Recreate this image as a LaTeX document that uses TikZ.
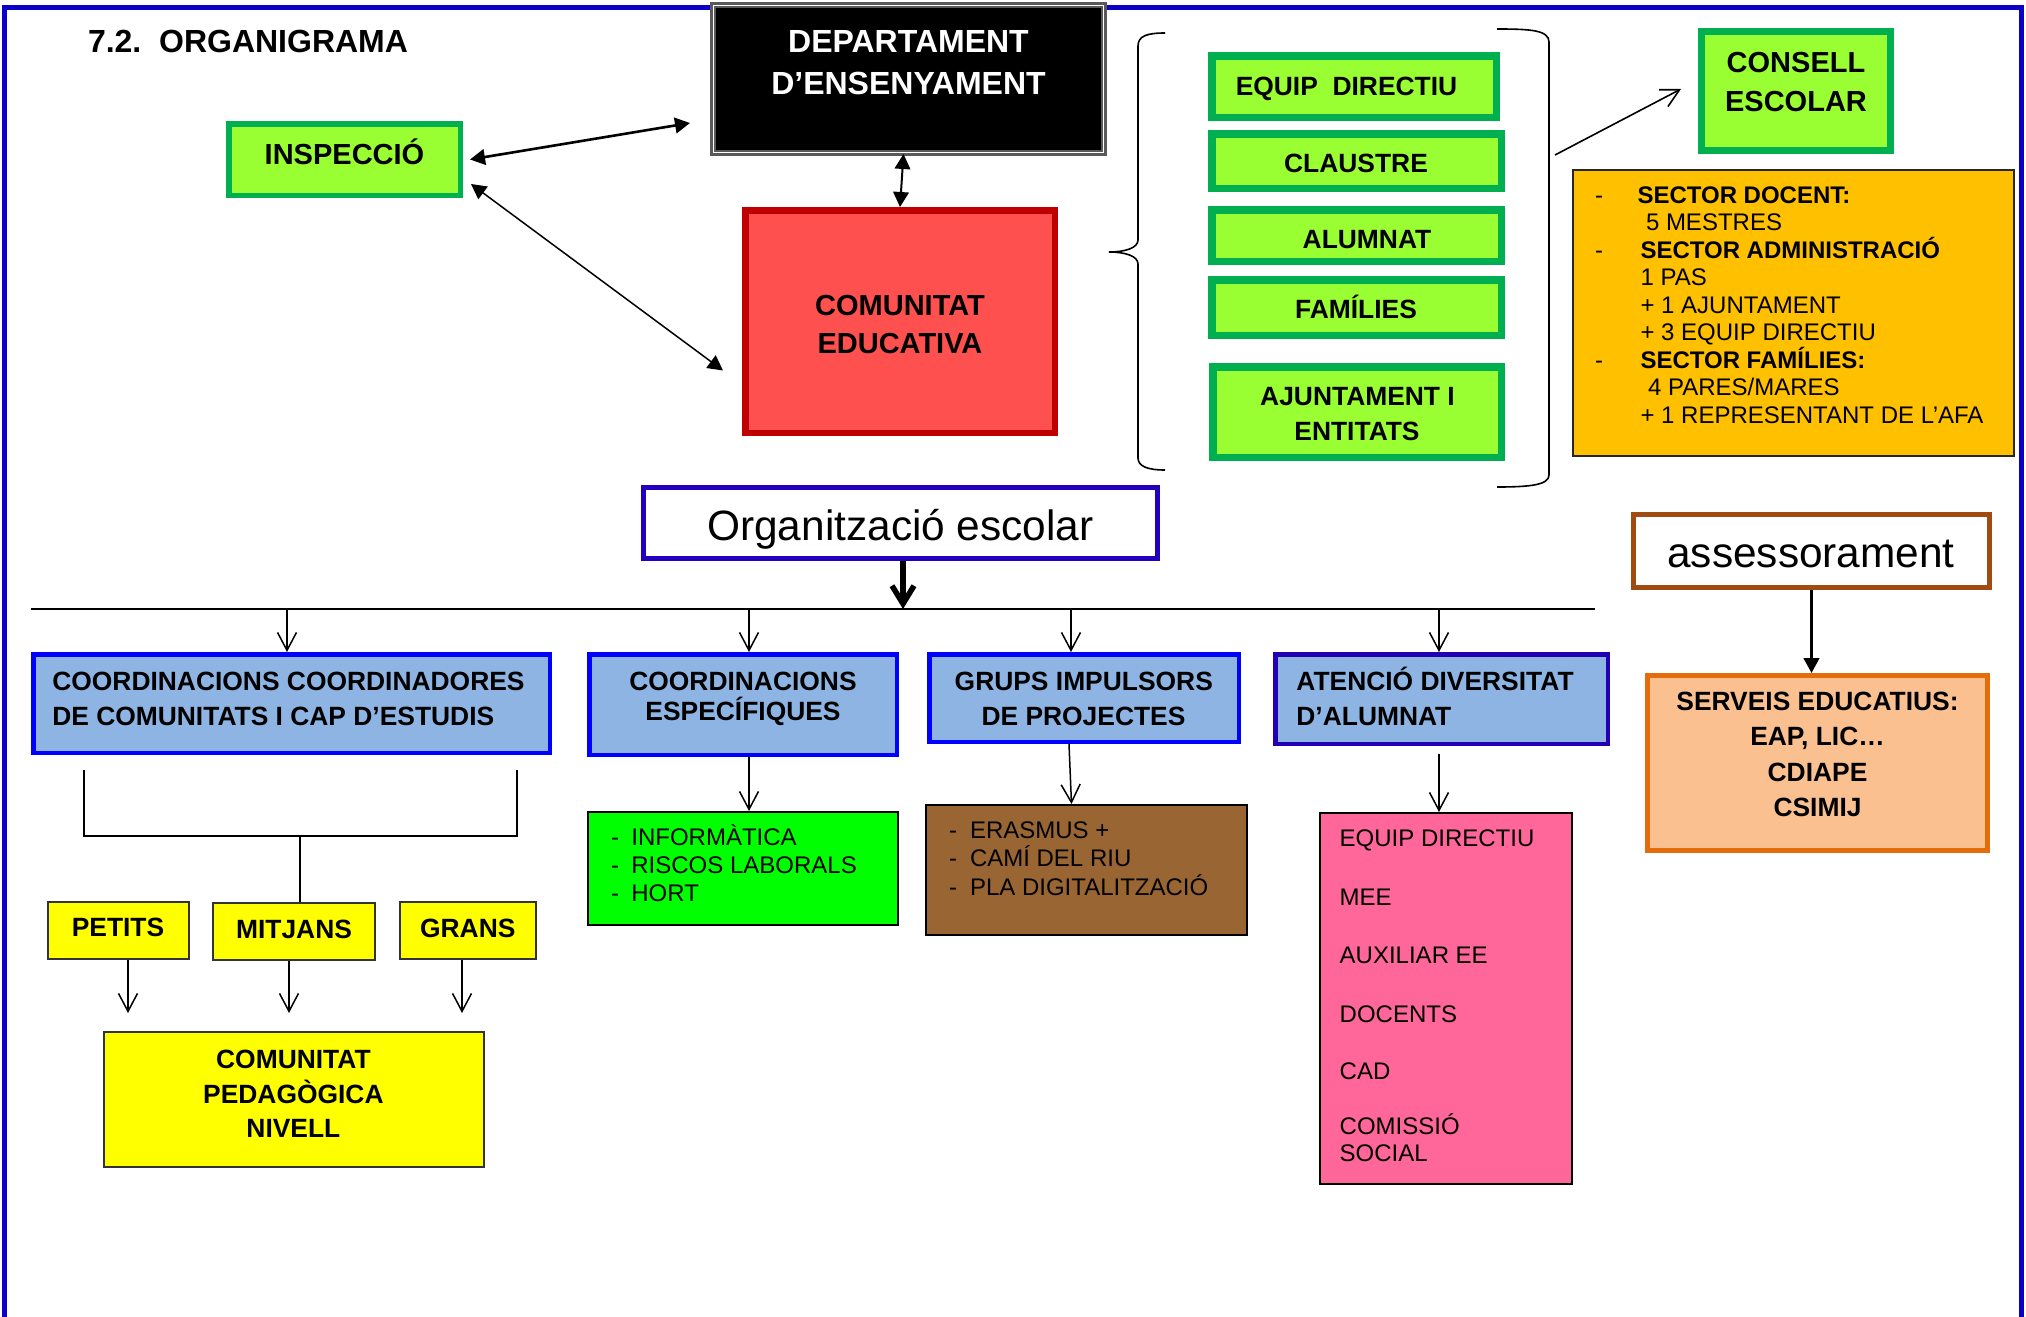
\documentclass[tikz,border=0pt]{standalone}
\usepackage{fontspec}
\setmainfont{Liberation Sans}
\usetikzlibrary{arrows.meta,calc}
\definecolor{frameblue}{RGB}{10,0,200}
\definecolor{lgreen}{RGB}{153,255,51}
\definecolor{dgreen}{RGB}{0,176,80}
\definecolor{redfill}{RGB}{255,80,80}
\definecolor{redline}{RGB}{192,0,0}
\definecolor{orgblue}{RGB}{35,0,190}
\definecolor{boxblue}{RGB}{142,180,227}
\definecolor{lineblue}{RGB}{0,0,255}
\definecolor{atblue}{RGB}{35,0,180}
\definecolor{asbrown}{RGB}{160,75,15}
\definecolor{amber}{RGB}{255,192,0}
\definecolor{peach}{RGB}{250,192,144}
\definecolor{orangeline}{RGB}{228,108,10}
\definecolor{brightgreen}{RGB}{0,255,0}
\definecolor{brownfill}{RGB}{153,102,51}
\definecolor{pinkfill}{RGB}{255,102,153}
\definecolor{yel}{RGB}{255,255,0}
\newcommand\bx[7]{\node[#2, line width=#3*0.5pt, minimum width={(#6-#4-#3)*0.5pt}, minimum height={(#7-#5-#3)*0.5pt}, inner sep=0pt] (#1) at ({(#4+#6)/2},{(#5+#7)/2}) {};}
\newcommand\tx[5]{\node[txt,#4] (#1) at (#2,#3) {#5};}
\begin{document}
\begin{tikzpicture}[x=0.5pt,y=-0.5pt,
  txt/.style={inner sep=0pt, outer sep=0pt, anchor=base},
  lt/.style={anchor=base west},
  f16b/.style={font=\fontsize{16}{19}\selectfont\bfseries},
  f145b/.style={font=\fontsize{14.5}{17}\selectfont\bfseries},
  f132b/.style={font=\fontsize{13.2}{16}\selectfont\bfseries},
  f12b/.style={font=\fontsize{12}{14}\selectfont\bfseries},
  f12/.style={font=\fontsize{12}{14}\selectfont},
  f21/.style={font=\fontsize{21.2}{25}\selectfont},
  depbox/.style={fill=black, draw=gray!70!black, double=white, double distance=0.6pt},
  gbox/.style={fill=lgreen, draw=dgreen},
  rbox/.style={fill=redfill, draw=redline},
  obox/.style={fill=amber, draw=black!85},
  orgbox/.style={fill=white, draw=orgblue},
  bbox/.style={fill=boxblue, draw=lineblue},
  abox/.style={fill=boxblue, draw=atblue},
  asbox/.style={fill=white, draw=asbrown},
  sebox/.style={fill=peach, draw=orangeline},
  lbox/.style={draw=black},
  ybox/.style={fill=yel, draw=black!80},
  tri2/.style={arrows={Triangle[length=7.5pt,width=7.8pt]-Triangle[length=7.5pt,width=7.8pt]}},
  tri1/.style={-{Triangle[length=7.5pt,width=7.8pt]}},
  barb/.style={-{Straight Barb[length=9pt,width=9.5pt]}, line width=0.75pt},
  bigbarb/.style={-{Straight Barb[length=9pt,width=11pt]}, line width=2.75pt},
  brace/.style={line width=0.8pt}
]
\useasboundingbox (0,0) rectangle (2026,1317);
\fill[white] (0,0) rectangle (2026,1317);
% frame
\draw[frameblue, line width=2.75pt] (4.5,1400) -- (4.5,7.3) -- (2021.5,7.3) -- (2021.5,1400);

% boxes
\bx{dep}{depbox}{2.5}{712}{4}{1105}{154}
\bx{insp}{gbox}{5.5}{226}{121}{463}{198}
\bx{com}{rbox}{6.5}{742}{207}{1058}{436}
\bx{eq}{gbox}{7.5}{1208}{52}{1500}{121}
\bx{cl}{gbox}{7.5}{1208}{130}{1505}{192}
\bx{al}{gbox}{7.5}{1208}{206}{1505}{265}
\bx{fa}{gbox}{7.5}{1208}{276}{1505}{339}
\bx{aj}{gbox}{7.5}{1209}{363}{1505}{461}
\bx{cons}{gbox}{7}{1698}{28}{1894}{154}
\bx{sect}{obox}{2}{1572}{169}{2015}{457}
\bx{org}{orgbox}{5}{641}{485}{1160}{561}
\bx{cc}{bbox}{4.5}{31}{652}{552}{755}
\bx{ce}{bbox}{4.5}{587}{652}{899}{757}
\bx{gr}{bbox}{4.5}{927}{652}{1241}{744}
\bx{at}{abox}{4.5}{1273}{652}{1610}{746}
\bx{as}{asbox}{5}{1631}{512}{1992}{590}
\bx{se}{sebox}{5}{1645}{673}{1990}{853}
\bx{inf}{lbox, fill=brightgreen}{2}{587}{811}{899}{926}
\bx{bro}{lbox, fill=brownfill}{2}{925}{804}{1248}{936}
\bx{pk}{lbox, fill=pinkfill}{2}{1319}{812}{1573}{1185}
\bx{pe}{ybox}{2}{47}{901}{190}{960}
\bx{mi}{ybox}{2}{212}{902}{376}{961}
\bx{gn}{ybox}{2}{399}{901}{537}{960}
\bx{cp}{ybox}{2}{103}{1031}{485}{1168}

% braces
\draw[brace] (1165,33) .. controls (1147,33) and (1138,36) .. (1138,46) -- (1138,240) .. controls (1138,248) and (1125,252) .. (1109,252) .. controls (1125,252) and (1138,256) .. (1138,264) -- (1138,458) .. controls (1138,466) and (1147,470) .. (1165,470);
\draw[brace] (1497,29) .. controls (1530,29) and (1549,30) .. (1549,42) -- (1549,475) .. controls (1549,485) and (1530,487) .. (1497,487);

% coordinates
\coordinate (rb) at (1555,155);
\coordinate (hl) at (31,609);
\coordinate (hr) at (1595,609);
\coordinate (b1) at (287,609);
\coordinate (b2) at (749,609);
\coordinate (b3) at (1071,609);
\coordinate (b4) at (1439,609);
\coordinate (bl) at (84,770);
\coordinate (brr) at (517,770);
\coordinate (bm) at (300,836);
\coordinate (ap) at (128,1013);
\coordinate (am) at (289,1013);
\coordinate (ag) at (462,1013);

% connectors
\draw[tri2, line width=1.3pt] ([xshift=3.5pt]insp.east) -- ([xshift=-11pt,yshift=-22pt]dep.west);
\draw[tri2, line width=0.75pt] ([xshift=4pt,yshift=7pt]insp.south east) -- ([xshift=-9.5pt,yshift=-24.5pt]com.west);
\draw[tri2, line width=1pt] ([xshift=-2.5pt]dep.south) -- (com.north);
\draw[barb, line width=0.8pt] (rb) -- ([xshift=-8.5pt,yshift=1pt]cons.west);
\draw[bigbarb] ([xshift=1.25pt]org.south) -- ([xshift=1.25pt]org.south |- hl);
\draw[line width=1pt] (hl) -- (hr);
\draw[barb] (b1) -- (b1 |- cc.north);
\draw[barb] (b2) -- (b2 |- ce.north);
\draw[barb] (b3) -- (b3 |- gr.north);
\draw[barb] (b4) -- (b4 |- at.north);
\draw[barb] ([xshift=3pt]ce.south) -- ([xshift=3pt]inf.north);
\draw[barb] ([xshift=-7.5pt]gr.south) -- ([xshift=-7.5pt]bro.north);
\draw[barb, shorten <=4pt] ([xshift=-1.25pt]at.south) -- ([xshift=-3.5pt]pk.north);
\draw[tri1, line width=1.3pt] (as.south) -- (as.south |- se.north);
\draw[line width=1pt] (bl) |- (brr |- bm) -- (brr);
\draw[line width=1.2pt] (bm) -- (bm |- mi.north);
\draw[barb] (pe.south -| ap) -- (ap);
\draw[barb] (mi.south -| am) -- (am);
\draw[barb] (gn.south -| ag) -- (ag);

% texts
\tx{title}{88}{52}{f16b, lt}{7.2.\ \ ORGANIGRAMA}
\tx{dep1}{908.5}{52}{f16b, text=white}{DEPARTAMENT}
\tx{dep2}{908.5}{94}{f16b, text=white}{D’ENSENYAMENT}
\tx{inspt}{344.5}{164}{f145b}{INSPECCIÓ}
\tx{com1}{900}{315}{f145b}{COMUNITAT}
\tx{com2}{900}{353}{f145b}{EDUCATIVA}
\tx{eqt}{1346.5}{95}{f132b}{EQUIP\ \ DIRECTIU}
\tx{clt}{1356}{172}{f132b}{CLAUSTRE}
\tx{alt}{1367}{248}{f132b}{ALUMNAT}
\tx{fat}{1356}{318}{f132b}{FAMÍLIES}
\tx{aj1}{1357.5}{405}{f132b}{AJUNTAMENT I}
\tx{aj2}{1357}{440}{f132b}{ENTITATS}
\tx{cons1}{1796}{72}{f145b}{CONSELL}
\tx{cons2}{1796}{111}{f145b}{ESCOLAR}

\tx{d1}{1595}{203}{f12, lt}{-}
\tx{s1}{1637.5}{203}{f12b, lt}{SECTOR DOCENT:}
\tx{s2}{1646}{230.5}{f12, lt}{5 MESTRES}
\tx{d2}{1595}{258}{f12, lt}{-}
\tx{s3}{1640.5}{258}{f12b, lt}{SECTOR ADMINISTRACIÓ}
\tx{s4}{1640.5}{285.5}{f12, lt}{1 PAS}
\tx{s5}{1640.5}{313}{f12, lt}{+ 1 AJUNTAMENT}
\tx{s6}{1640.5}{340.5}{f12, lt}{+ 3 EQUIP DIRECTIU}
\tx{d3}{1595}{368}{f12, lt}{-}
\tx{s7}{1640.5}{368}{f12b, lt}{SECTOR FAMÍLIES:}
\tx{s8}{1648}{395.5}{f12, lt}{4 PARES/MARES}
\tx{s9}{1640.5}{423}{f12, lt}{+ 1 REPRESENTANT DE L’AFA}

\tx{orgt}{900.5}{540}{f21}{Organització escolar}
\tx{ast}{1811}{567}{f21}{assessorament}

\tx{cc1}{52.3}{690}{f132b, lt}{COORDINACIONS COORDINADORES}
\tx{cc2}{52.3}{725}{f132b, lt}{DE COMUNITATS I CAP D’ESTUDIS}
\tx{ce1}{743}{690}{f132b}{COORDINACIONS}
\tx{ce2}{743}{720}{f132b}{ESPECÍFIQUES}
\tx{gr1}{1083.8}{690}{f132b}{GRUPS IMPULSORS}
\tx{gr2}{1083.5}{725}{f132b}{DE PROJECTES}
\tx{at1}{1296.4}{690}{f132b, lt}{ATENCIÓ DIVERSITAT}
\tx{at2}{1296.4}{725}{f132b, lt}{D’ALUMNAT}

\tx{se1}{1817.5}{710.7}{f132b}{SERVEIS EDUCATIUS:}
\tx{se2}{1817.5}{745.7}{f132b}{EAP, LIC…}
\tx{se3}{1817.5}{781}{f132b}{CDIAPE}
\tx{se4}{1817.5}{816}{f132b}{CSIMIJ}

\tx{i0a}{611}{845}{f12, lt}{-}
\tx{i0b}{611}{873.3}{f12, lt}{-}
\tx{i0c}{611}{901.7}{f12, lt}{-}
\tx{i1}{631.4}{845}{f12, lt}{INFORMÀTICA}
\tx{i2}{631.4}{873.3}{f12, lt}{RISCOS LABORALS}
\tx{i3}{631.4}{901.7}{f12, lt}{HORT}

\tx{r0a}{949}{838}{f12, lt}{-}
\tx{r0b}{949}{866.5}{f12, lt}{-}
\tx{r0c}{949}{895}{f12, lt}{-}
\tx{r1}{970}{838}{f12, lt}{ERASMUS +}
\tx{r2}{970}{866.5}{f12, lt}{CAMÍ DEL RIU}
\tx{r3}{970}{895}{f12, lt}{PLA DIGITALITZACIÓ}

\tx{p1}{1339.7}{846}{f12, lt}{EQUIP DIRECTIU}
\tx{p2}{1339.7}{905}{f12, lt}{MEE}
\tx{p3}{1339.7}{963.2}{f12, lt}{AUXILIAR EE}
\tx{p4}{1339.7}{1022}{f12, lt}{DOCENTS}
\tx{p5}{1339.7}{1079}{f12, lt}{CAD}
\tx{p6}{1339.7}{1134.5}{f12, lt}{COMISSIÓ}
\tx{p7}{1339.7}{1161.8}{f12, lt}{SOCIAL}

\tx{pet}{118}{936.7}{f132b}{PETITS}
\tx{mit}{294}{938}{f132b}{MITJANS}
\tx{gra}{467.8}{937.7}{f132b}{GRANS}

\tx{cp1}{293.4}{1068}{f132b}{COMUNITAT}
\tx{cp2}{293.4}{1103}{f132b}{PEDAGÒGICA}
\tx{cp3}{293.4}{1137}{f132b}{NIVELL}
\end{tikzpicture}
\end{document}
